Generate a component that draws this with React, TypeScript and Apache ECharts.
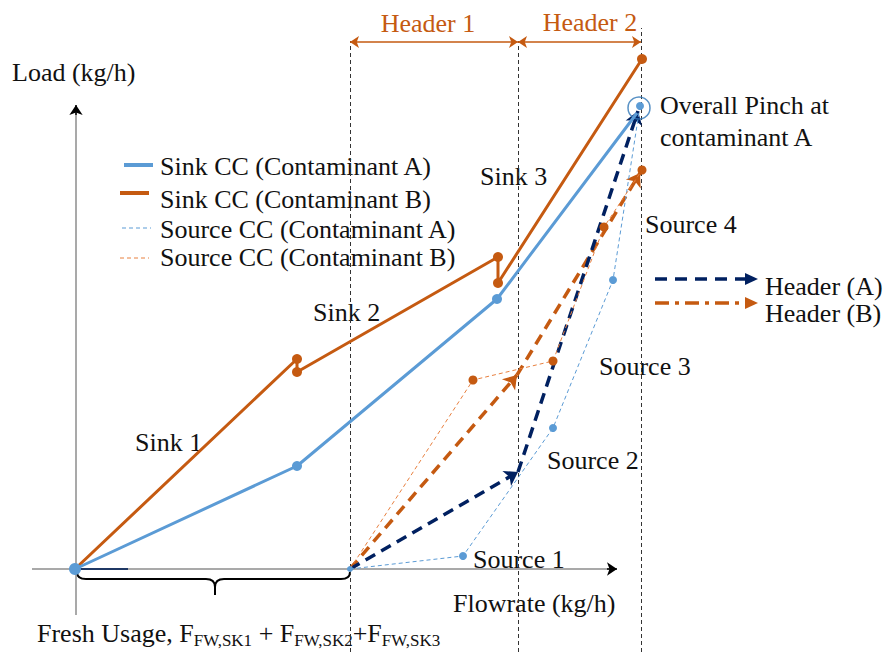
import React, { useEffect, useRef } from "react";
import * as echarts from "echarts";

// Schematic units: flowrate (x) and load (y)
const sinkA: number[][] = [[0, 0], [44.4, 20.6], [84.4, 54], [112.4, 91.2]];
const sinkB: number[][] = [[0, 0], [44.4, 42], [44.4, 39.4], [84.6, 62.4], [84.6, 57.2], [113.4, 102]];
const sourceA: number[][] = [[55, 0], [77.6, 2.6], [95.6, 28.2], [107.6, 57.8], [113, 92.6]];
const sourceB: number[][] = [[55, 0], [79.6, 37.8], [95.6, 41.6], [105.8, 68.4], [113.4, 79.8]];
const headerA: number[][] = [[55, 0], [88.6, 19.4], [112.6, 91.6]];
const headerB: number[][] = [[55, 0], [88.4, 38.8], [113, 79.2]];
const headerBounds: number[] = [55, 88.6, 113.2];
const headerTops: number[] = [105.6, 105.6, 108.2];
const headerLevel = 105.4;
const pinchPoint: number[] = [112.8, 92.2];
const xAxisEnd = 108.4;
const xAxisStart = -8.6;
const yAxisEnd = 92.8;
const yAxisStart = -9.2;
const xRange: number[] = [-15, 161.8];
const yRange: number[] = [-16.6, 113.8];

const legendLabels: string[] = [
  "Sink CC (Contaminant A)",
  "Sink CC (Contaminant B)",
  "Source CC (Contaminant A)",
  "Source CC (Contaminant B)",
];
const sinkLabels: string[] = ["Sink 1", "Sink 2", "Sink 3"];
const sourceLabels: string[] = ["Source 1", "Source 2", "Source 3", "Source 4"];

const BLUE = "#5B9BD5";
const ORANGE = "#C55A11";
const ORANGE_LIGHT = "#E8803F";
const NAVY = "#002060";
const FONT = "'Liberation Serif', 'Times New Roman', serif";
const TXT = "#111";

export default function App() {
  const ref = useRef<HTMLDivElement>(null);
  useEffect(() => {
    document.body.style.margin = "0";
    if (!ref.current) return;
    const chart = echarts.init(ref.current, undefined, { renderer: "svg" });

    echarts.graphic.registerShape(
      "brace",
      echarts.graphic.extendPath(
        "M77,572 Q77,579 86,579 L206,579 Q215,579 215,587 L215,595 M215,587 Q215,579 224,579 L341,579 Q350,579 350,572",
        {}
      )
    );

    const txt = (x: number, y: number, text: string, extra: any = {}) => ({
      type: "text",
      x,
      y,
      silent: true,
      style: {
        text,
        fontFamily: FONT,
        fontSize: 26,
        fill: TXT,
        verticalAlign: "middle",
        align: "left",
        ...extra,
      },
    });

    const legendY = [166, 199, 229, 257];
    const legendLine = [
      { x1: 124, x2: 153, color: BLUE, w: 4, dash: null },
      { x1: 120, x2: 149, color: ORANGE, w: 4, dash: null },
      { x1: 122, x2: 151, color: BLUE, w: 1, dash: [4, 3] },
      { x1: 120, x2: 149, color: ORANGE_LIGHT, w: 1, dash: [4, 3] },
    ];
    const lineYs = [165, 193, 228, 258];

    const graphics: any[] = [];
    legendLabels.forEach((l, i) => {
      const s = legendLine[i];
      graphics.push({
        type: "line",
        silent: true,
        shape: { x1: s.x1, y1: lineYs[i], x2: s.x2, y2: lineYs[i] },
        style: { stroke: s.color, lineWidth: s.w, lineDash: s.dash || undefined },
      });
      graphics.push(txt(160, legendY[i], l));
    });

    graphics.push(txt(12, 72, "Load (kg/h)"));
    graphics.push(txt(428, 23, "Header 1", { align: "center", fill: ORANGE }));
    graphics.push(txt(590, 22, "Header 2", { align: "center", fill: ORANGE }));
    graphics.push(txt(135, 442, sinkLabels[0]));
    graphics.push(txt(313, 312, sinkLabels[1]));
    graphics.push(txt(480, 176, sinkLabels[2]));
    graphics.push(txt(473, 559, sourceLabels[0]));
    graphics.push(txt(547, 460, sourceLabels[1]));
    graphics.push(txt(599, 366, sourceLabels[2]));
    graphics.push(txt(645, 224, sourceLabels[3]));
    graphics.push(txt(660, 105, "Overall Pinch at"));
    graphics.push(txt(660, 137, "contaminant A"));
    graphics.push(txt(765, 286, "Header (A)"));
    graphics.push(txt(765, 313, "Header (B)"));
    graphics.push(txt(453, 603, "Flowrate (kg/h)"));
    graphics.push({
      type: "text",
      x: 37,
      y: 633,
      silent: true,
      style: {
        text: "Fresh Usage, F{sub|FW,SK1} + F{sub|FW,SK2}+F{sub|FW,SK3}",
        fontFamily: FONT,
        fontSize: 26,
        fill: TXT,
        verticalAlign: "middle",
        rich: {
          sub: { fontFamily: FONT, fontSize: 17, fill: TXT, padding: [14, 0, 0, 0] },
        },
      },
    });

    // header legend arrows
    graphics.push({
      type: "line",
      silent: true,
      shape: { x1: 655, y1: 279, x2: 748, y2: 279 },
      style: { stroke: NAVY, lineWidth: 3.5, lineDash: [12, 8] },
    });
    graphics.push({
      type: "polygon",
      silent: true,
      shape: { points: [[745, 273], [758, 279], [745, 285]] },
      style: { fill: NAVY },
    });
    graphics.push({
      type: "line",
      silent: true,
      shape: { x1: 655, y1: 303, x2: 748, y2: 303 },
      style: { stroke: ORANGE, lineWidth: 3.5, lineDash: [14, 6, 4, 6] },
    });
    graphics.push({
      type: "polygon",
      silent: true,
      shape: { points: [[745, 297], [758, 303], [745, 309]] },
      style: { fill: ORANGE },
    });
    graphics.push({
      type: "brace",
      x: 0,
      y: 0,
      silent: true,
      style: { stroke: "#000", fill: "none", lineWidth: 2 },
    });

    chart.setOption({
      animation: false,
      grid: { left: 0, right: 0, top: 0, bottom: 0, containLabel: false },
      xAxis: { type: "value", min: xRange[0], max: xRange[1], show: false },
      yAxis: { type: "value", min: yRange[0], max: yRange[1], show: false },
      graphic: graphics,
      series: [
        {
          type: "lines",
          coordinateSystem: "cartesian2d",
          silent: true,
          symbol: ["none", "none"],
          lineStyle: { color: "#333", width: 1, type: [4, 3], opacity: 1 },
          data: headerBounds.map((x, i) => ({ coords: [[x, yRange[0]], [x, headerTops[i]]] })),
        },
        {
          type: "lines",
          coordinateSystem: "cartesian2d",
          silent: true,
          symbol: ["arrow", "arrow"],
          symbolSize: 9,
          lineStyle: { color: ORANGE, width: 1.5, opacity: 1 },
          data: [
            { coords: [[headerBounds[0], headerLevel], [headerBounds[1], headerLevel]] },
            { coords: [[headerBounds[1], headerLevel], [headerBounds[2], headerLevel]] },
          ],
        },
        {
          type: "lines",
          coordinateSystem: "cartesian2d",
          silent: true,
          symbol: ["none", "none"],
          lineStyle: { color: "#8c8c8c", width: 1.5, opacity: 1 },
          data: [
            { coords: [[xAxisStart, 0], [xAxisEnd - 1.5, 0]] },
            { coords: [[0.2, yAxisStart], [0.2, yAxisEnd - 1.5]] },
          ],
        },
        {
          type: "lines",
          coordinateSystem: "cartesian2d",
          silent: true,
          symbol: ["none", "arrow"],
          symbolSize: 10,
          lineStyle: { color: "#000", width: 1.5, opacity: 1 },
          data: [
            { coords: [[xAxisEnd - 2, 0], [xAxisEnd, 0]] },
            { coords: [[0.2, yAxisEnd - 2], [0.2, yAxisEnd]] },
          ],
        },
        {
          type: "line",
          silent: true,
          data: [[0, 0], [10.6, 0]],
          showSymbol: false,
          lineStyle: { color: "#1F3864", width: 2 },
        },
        {
          type: "line",
          name: legendLabels[2],
          silent: true,
          data: sourceA,
          symbol: "circle",
          symbolSize: (v: any, p: any) => (p.dataIndex === 0 ? 6 : 8),
          itemStyle: { color: BLUE },
          lineStyle: { color: BLUE, width: 1, type: [4, 3] },
        },
        {
          type: "line",
          name: legendLabels[3],
          silent: true,
          data: sourceB,
          symbol: "circle",
          symbolSize: (v: any, p: any) => (p.dataIndex === 0 ? 0 : 9),
          itemStyle: { color: ORANGE },
          lineStyle: { color: ORANGE_LIGHT, width: 1, type: [4, 3] },
        },
        {
          type: "lines",
          coordinateSystem: "cartesian2d",
          silent: true,
          symbol: ["none", "arrow"],
          symbolSize: 13,
          lineStyle: { color: ORANGE, width: 3.5, type: [11, 7], opacity: 1 },
          data: [
            { coords: [headerB[0], headerB[1]] },
            { coords: [headerB[1], headerB[2]] },
          ],
        },
        {
          type: "lines",
          coordinateSystem: "cartesian2d",
          silent: true,
          symbol: ["none", "arrow"],
          symbolSize: 13,
          lineStyle: { color: NAVY, width: 3.5, type: [11, 7], opacity: 1 },
          data: [
            { coords: [headerA[0], headerA[1]] },
            { coords: [headerA[1], headerA[2]] },
          ],
        },
        {
          type: "line",
          name: legendLabels[1],
          silent: true,
          data: sinkB,
          symbol: "circle",
          symbolSize: 10,
          itemStyle: { color: ORANGE },
          lineStyle: { color: ORANGE, width: 3 },
        },
        {
          type: "line",
          name: legendLabels[0],
          silent: true,
          data: sinkA,
          symbol: "circle",
          symbolSize: (v: any, p: any) => (p.dataIndex === 0 ? 12 : p.dataIndex === 3 ? 0 : 10),
          itemStyle: { color: BLUE },
          lineStyle: { color: BLUE, width: 3 },
        },
        {
          type: "scatter",
          silent: true,
          data: [pinchPoint],
          symbol: "circle",
          symbolSize: 22,
          itemStyle: { color: "rgba(0,0,0,0)", borderColor: "#2E75B6", borderWidth: 1.5 },
        },
      ],
    });
    return () => chart.dispose();
  }, []);
  return <div ref={ref} style={{ width: 884, height: 652 }} />;
}
